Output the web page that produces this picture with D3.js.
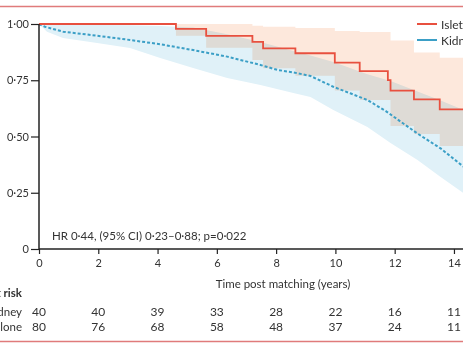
<!DOCTYPE html>
<html>
<head>
<meta charset="utf-8">
<script src="https://cdn.jsdelivr.net/npm/d3@7"></script>
<style>
  body { margin: 0; background: #fff; }
  svg { display: block; font-family: Lato, "Open Sans", sans-serif; }
</style>
</head>
<body>
<svg id="chart" width="463" height="348"></svg>
<script>
// Kaplan-Meier graft survival, islet-after-kidney vs kidney alone

var islTimes = [0, 4.62, 5.64, 7.2, 7.56, 8.65, 9.98, 10.82, 11.77, 11.86, 12.65, 13.52, 14.8];
var islSurv  = [1, 0.978, 0.947, 0.921, 0.892, 0.87, 0.828, 0.791, 0.751, 0.704, 0.665, 0.621, 0.621];
var islUpper = [1, 1, 1, 0.992, 0.988, 0.982, 0.969, 0.964, 0.964, 0.927, 0.873, 0.85, 0.85];
var islLower = [1, 0.948, 0.895, 0.84, 0.803, 0.77, 0.704, 0.662, 0.662, 0.547, 0.511, 0.458, 0.458];

var kidTimes = [0, 0.2, 0.81, 1.95, 3.07, 4.09, 5.2, 6.35, 7.47, 8.04, 8.58, 9.16, 9.93, 10.5, 11.08, 11.7, 12.76, 13.55, 14.29, 14.8];
var kidSurv  = [1, 0.988, 0.966, 0.948, 0.929, 0.91, 0.884, 0.855, 0.818, 0.796, 0.785, 0.769, 0.721, 0.692, 0.662, 0.613, 0.514, 0.447, 0.369, 0.33];

var kidCiTimes = [0, 0.27, 0.81, 1.96, 3.07, 4.09, 5.2, 6.35, 7.47, 8.58, 9.16, 9.93, 11.08, 11.86, 12.77, 13.55, 14.32, 14.8];
var kidLower   = [1, 0.966, 0.938, 0.916, 0.893, 0.849, 0.804, 0.76, 0.729, 0.693, 0.676, 0.618, 0.542, 0.471, 0.396, 0.32, 0.249, 0.21];
var kidUpper   = [1, 1, 0.998, 0.996, 0.994, 0.991, 0.984, 0.955, 0.92, 0.88, 0.86, 0.831, 0.777, 0.747, 0.70, 0.66, 0.618, 0.59];

var xTicks = [0, 2, 4, 6, 8, 10, 12, 14];
var yTicks = [0, 0.25, 0.5, 0.75, 1];
var riskIslet  = [40, 40, 39, 33, 28, 22, 16, 11];
var riskKidney = [80, 76, 68, 58, 48, 37, 24, 11];

var seriesNames = ["Islet-after-kidney", "Kidney alone"];
var red = "#e8503f", blue = "#3b9fc6";

var svg = d3.select("#chart");

var x = d3.scaleLinear().domain([0, 16]).range([39, 39 + 16 * 29.64]);
var y = d3.scaleLinear().domain([0, 1]).range([249, 24]);

function zip(t, v) { return t.map(function(d, i){ return [d, v[i]]; }); }

// frame rules
svg.append("line").attr("x1", 0).attr("x2", 463).attr("y1", 6.5).attr("y2", 6.5)
  .attr("stroke", "#e07b7b").attr("stroke-width", 1.4);
svg.append("line").attr("x1", 0).attr("x2", 463).attr("y1", 341.5).attr("y2", 341.5)
  .attr("stroke", "#e07b7b").attr("stroke-width", 1.4);

// confidence bands
var band = function(lo, hi, curve){
  return d3.area()
    .x(function(d){ return x(d[0]); })
    .y0(function(d){ return y(d[1]); })
    .y1(function(d){ return y(d[2]); })
    .curve(curve);
};

var kidBand = kidCiTimes.map(function(t, i){ return [t, kidLower[i], kidUpper[i]]; });
var islBand = islTimes.map(function(t, i){ return [t, islLower[i], islUpper[i]]; });

svg.append("path")
  .datum(kidBand)
  .attr("d", band(0, 0, d3.curveLinear))
  .attr("fill", "#e0f1f8");

svg.append("path")
  .datum(islBand)
  .attr("d", band(0, 0, d3.curveStepAfter))
  .attr("fill", "#fde8dc")
  .style("mix-blend-mode", "multiply");

// survival curves
svg.append("path")
  .datum(zip(kidTimes, kidSurv))
  .attr("d", d3.line().x(function(d){ return x(d[0]); }).y(function(d){ return y(d[1]); }))
  .attr("fill", "none")
  .attr("stroke", blue)
  .attr("stroke-width", 2)
  .attr("stroke-dasharray", "3,2");

svg.append("path")
  .datum(zip(islTimes, islSurv))
  .attr("d", d3.line().x(function(d){ return x(d[0]); }).y(function(d){ return y(d[1]); }).curve(d3.curveStepAfter))
  .attr("fill", "none")
  .attr("stroke", red)
  .attr("stroke-width", 1.8);

// axes
var yAxis = d3.axisLeft(y)
  .tickValues(yTicks)
  .tickSize(8)
  .tickPadding(2)
  .tickFormat(function(d){ return d === 0 ? "0" : d3.format(".2f")(d).replace(".", "\u00b7"); });

var xAxis = d3.axisBottom(x)
  .tickValues(xTicks)
  .tickSize(5)
  .tickPadding(5)
  .tickFormat(d3.format("d"));

var gy = svg.append("g").attr("transform", "translate(39,0)").call(yAxis);
var gx = svg.append("g").attr("transform", "translate(0,249)").call(xAxis);

[gx, gy].forEach(function(g){
  g.select(".domain").attr("stroke", "#222").attr("stroke-width", 1.5);
  g.selectAll(".tick line").attr("stroke", "#222").attr("stroke-width", 1.2);
  g.selectAll(".tick text").attr("fill", "#333").style("font-size", "11px")
    .style("font-family", "Lato, 'Open Sans', sans-serif");
});
gx.select(".domain").attr("d", "M39,0H480");
gy.select(".domain").attr("d", "M0,249V24");

svg.append("text")
  .attr("x", 283).attr("y", 288)
  .attr("text-anchor", "middle")
  .attr("fill", "#333")
  .style("font-size", "11.5px")
  .text("Time post matching (years)");

svg.append("text")
  .attr("x", 52).attr("y", 239.5)
  .attr("fill", "#333")
  .style("font-size", "11.5px")
  .text("HR 0\u00b744, (95% CI) 0\u00b723\u20130\u00b788; p=0\u00b7022");

// legend
var legend = svg.append("g").attr("transform", "translate(417,0)");
[[red, 24, seriesNames[0]], [blue, 40, seriesNames[1]]].forEach(function(l){
  legend.append("line").attr("x1", 0).attr("x2", 20).attr("y1", l[1]).attr("y2", l[1])
    .attr("stroke", l[0]).attr("stroke-width", 2);
  legend.append("text").attr("x", 24).attr("y", l[1] + 4.5)
    .attr("fill", "#333").style("font-size", "12px").text(l[2]);
});

// number at risk
svg.append("text")
  .attr("x", 22).attr("y", 297)
  .attr("text-anchor", "end")
  .attr("fill", "#333")
  .style("font-size", "11.5px")
  .style("font-weight", "bold")
  .text("Number at risk");

[[riskIslet, 315.5, seriesNames[0]], [riskKidney, 331, seriesNames[1]]].forEach(function(r){
  svg.append("text")
    .attr("x", 22).attr("y", r[1])
    .attr("text-anchor", "end")
    .attr("fill", "#333")
    .style("font-size", "11.5px")
    .text(r[2]);
  svg.append("g").selectAll("text")
    .data(r[0])
    .enter().append("text")
    .attr("x", function(d, i){ return x(xTicks[i]); })
    .attr("y", r[1])
    .attr("text-anchor", "middle")
    .attr("fill", "#333")
    .style("font-size", "12px")
    .text(function(d){ return d; });
});
</script>
</body>
</html>
